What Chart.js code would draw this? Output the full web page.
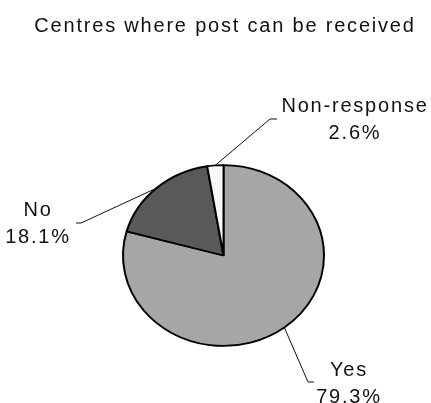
<!DOCTYPE html>
<html lang="en">
<head>
    <meta charset="UTF-8">
    <title>Centres where post can be received</title>
    <script src="https://cdn.jsdelivr.net/npm/chart.js"></script>
    <style>
        body { margin: 0; padding: 0; background: #ffffff; }
        #wrap { width: 431px; height: 403px; }
    </style>
</head>
<body>
    <div id="wrap"><canvas id="pieChart"></canvas></div>
    <script>
        const title = "Centres where post can be received";
        const categories = ["Yes", "No", "Non-response"];
        const shares = [79.3, 18.1, 2.6];
        const colours = ["#a6a6a6", "#595959", "#f8f8f8"];

        // where each label sits and where its leader line bends
        const labelSpots = [
            { x: 349, y: 370, elbow: [308, 382], end: [314, 382] },
            { x: 38, y: 210, elbow: [81, 223], end: [76, 223] },
            { x: 355, y: 106, elbow: [270, 119], end: [277, 119] }
        ];
        const squash = 0.9; // pie is drawn a bit flatter than a circle
        const font = "20px 'Liberation Sans', Arial, sans-serif";

        function centre(chart) {
            const arc = chart.getDatasetMeta(0).data[0];
            return { x: arc.x, y: arc.y };
        }

        const ellipsePlugin = {
            id: "ellipse",
            beforeDatasetsDraw(chart) {
                const c = centre(chart);
                const ctx = chart.ctx;
                ctx.save();
                ctx.translate(c.x, c.y);
                ctx.scale(1, squash);
                ctx.translate(-c.x, -c.y);
            },
            afterDatasetsDraw(chart) {
                chart.ctx.restore();
            }
        };

        const labelPlugin = {
            id: "labels",
            afterDraw(chart) {
                const ctx = chart.ctx;
                const meta = chart.getDatasetMeta(0);
                ctx.save();
                ctx.fillStyle = "#111111";
                ctx.font = font;
                ctx.letterSpacing = "1.8px";
                ctx.textAlign = "center";
                ctx.textBaseline = "middle";
                ctx.fillText(title, 225, 26);

                meta.data.forEach((arc, i) => {
                    const spot = labelSpots[i];
                    const mid = (arc.startAngle + arc.endAngle) / 2;
                    const sx = arc.x + Math.cos(mid) * arc.outerRadius;
                    const sy = arc.y + Math.sin(mid) * arc.outerRadius * squash;
                    ctx.strokeStyle = "#111111";
                    ctx.lineWidth = 1;
                    ctx.beginPath();
                    ctx.moveTo(sx, sy);
                    ctx.lineTo(spot.elbow[0], spot.elbow[1]);
                    ctx.lineTo(spot.end[0], spot.end[1]);
                    ctx.stroke();

                    ctx.fillText(categories[i], spot.x, spot.y);
                    ctx.fillText(shares[i].toFixed(1) + "%", spot.x, spot.y + 27);
                });
                ctx.restore();
            }
        };

        new Chart(document.getElementById("pieChart"), {
            type: "pie",
            data: {
                labels: categories,
                datasets: [{
                    data: shares,
                    backgroundColor: colours,
                    borderColor: "#000000",
                    borderWidth: 2
                }]
            },
            options: {
                responsive: true,
                maintainAspectRatio: false,
                animation: false,
                layout: { padding: { left: 122, right: 106, top: 154, bottom: 46 } },
                plugins: {
                    legend: { display: false },
                    tooltip: { enabled: false }
                }
            },
            plugins: [ellipsePlugin, labelPlugin]
        });
    </script>
</body>
</html>
